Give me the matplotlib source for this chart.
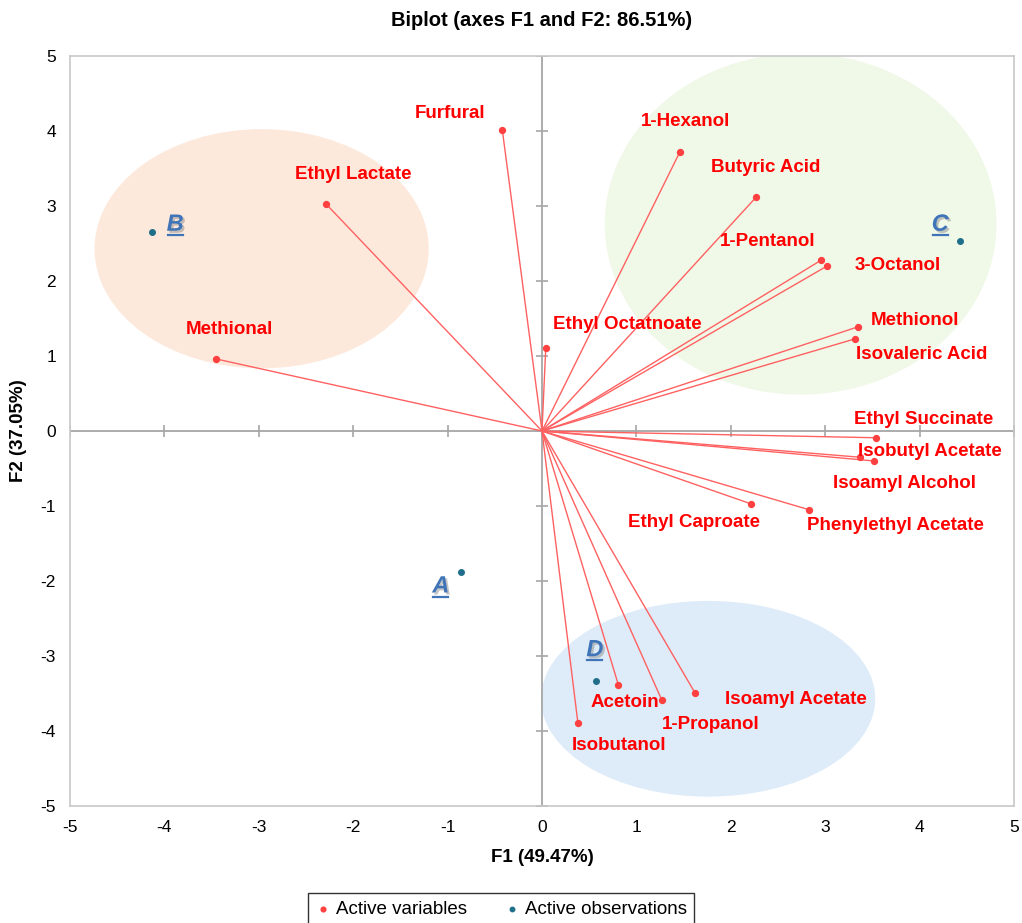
import matplotlib.pyplot as plt
from matplotlib.patches import Ellipse
from matplotlib.lines import Line2D
import matplotlib.patheffects as pe

plt.rcParams['font.family'] = ['Liberation Sans', 'DejaVu Sans']
plt.rcParams['axes.unicode_minus'] = False

# Active variables (F1, F2 loadings)
var_names = ['Furfural', 'Ethyl Lactate', 'Methional', 'Ethyl Octatnoate',
             '1-Hexanol', 'Butyric Acid', '1-Pentanol', '3-Octanol',
             'Methionol', 'Isovaleric Acid', 'Ethyl Succinate',
             'Isobutyl Acetate', 'Isoamyl Alcohol', 'Ethyl Caproate',
             'Phenylethyl Acetate', 'Isoamyl Acetate', '1-Propanol',
             'Acetoin', 'Isobutanol']
var_f1 = [-0.42, -2.29, -3.45, 0.04, 1.46, 2.27, 2.96, 3.02, 3.35, 3.32,
          3.54, 3.37, 3.52, 2.21, 2.83, 1.62, 1.27, 0.81, 0.38]
var_f2 = [4.01, 3.03, 0.96, 1.11, 3.72, 3.12, 2.28, 2.20, 1.39, 1.23,
          -0.09, -0.35, -0.40, -0.97, -1.05, -3.49, -3.59, -3.39, -3.89]

# Active observations
obs_names = ['A', 'B', 'C', 'D']
obs_f1 = [-0.86, -4.13, 4.43, 0.57]
obs_f2 = [-1.88, 2.65, 2.53, -3.33]

ticks = [-5, -4, -3, -2, -1, 0, 1, 2, 3, 4, 5]

# label offsets in pixels (x right, y up)
var_offsets = [(-52, 17), (27, 29), (13, 29), (82, 23), (6, 31), (9, 29),
               (-54, 19), (71, 1), (57, 6), (66, -16), (47, 18), (70, 6),
               (30, -23), (-57, -19), (86, -16), (101, -7), (49, -24),
               (6, -17), (41, -23)]
obs_offsets = [(-20, -14), (23, 8), (-20, 17), (-1, 31)]

fig = plt.figure(figsize=(10.22, 9.23), dpi=100)
ax = fig.add_axes([70 / 1022, 1 - 806 / 923, 944 / 1022, 750 / 923])

# group ellipses
ax.add_patch(Ellipse((-2.97, 2.43), 3.54, 3.19, facecolor='#fde9dc',
                     edgecolor='none', zorder=0))
ax.add_patch(Ellipse((2.74, 2.76), 4.15, 4.55, facecolor='#f0f8e8',
                     edgecolor='none', zorder=0))
ax.add_patch(Ellipse((1.76, -3.57), 3.54, 2.61, facecolor='#deebf8',
                     edgecolor='none', zorder=0))

# zero axes with cross ticks
ax.axhline(0, color='#a6a6a6', lw=1.3, zorder=1)
ax.axvline(0, color='#a6a6a6', lw=1.3, zorder=1)
ax.plot(ticks, [0] * len(ticks), ls='none', marker='|', ms=8, mew=1.2,
        color='#a6a6a6', zorder=1)
ax.plot([0] * len(ticks), ticks, ls='none', marker='_', ms=8, mew=1.2,
        color='#a6a6a6', zorder=1)

# variable vectors
for x, y in zip(var_f1, var_f2):
    ax.plot([0, x], [0, y], color='#ff6161', lw=1.0, zorder=2)
ax.scatter(var_f1, var_f2, s=18, color='#ff4040', zorder=3,
           label='Active variables')
for name, x, y, off in zip(var_names, var_f1, var_f2, var_offsets):
    ax.annotate(name, (x, y), xytext=off, textcoords='offset pixels',
                ha='center', va='center', color='#ff0000',
                fontsize=13.5, fontweight='bold', zorder=4)

# observations
ax.scatter(obs_f1, obs_f2, s=16, color='#1f6f8b', zorder=3,
           label='Active observations')
obs_texts = []
for name, x, y, off in zip(obs_names, obs_f1, obs_f2, obs_offsets):
    t = ax.annotate(name, (x, y), xytext=off, textcoords='offset pixels',
                    ha='center', va='center', color='#3f75b8',
                    fontsize=17, fontweight='bold', fontstyle='italic',
                    zorder=4,
                    path_effects=[pe.withSimplePatchShadow(offset=(1.5, -1.5),
                                                           shadow_rgbFace='#8c8c8c',
                                                           alpha=0.5)])
    obs_texts.append(t)

ax.set_xlim(-5, 5)
ax.set_ylim(-5, 5)
ax.set_xticks(ticks)
ax.set_yticks(ticks)
ax.tick_params(length=0, labelsize=12.5, pad=10, colors='#000000')
for s in ax.spines.values():
    s.set_color('#c8c8c8')
    s.set_linewidth(1.2)

fig.text(542 / 1022, 1 - 21 / 923, 'Biplot (axes F1 and F2: 86.51%)',
         ha='center', va='center', fontsize=14.5, fontweight='bold')
ax.set_xlabel('F1 (49.47%)', fontsize=13.5, fontweight='bold', labelpad=10)
ax.set_ylabel('F2 (37.05%)', fontsize=13.5, fontweight='bold', labelpad=10)

leg = fig.legend(loc='upper center', bbox_to_anchor=(501 / 1022, 1 - 893 / 923),
                 ncol=2, fancybox=False, edgecolor='#000000', fontsize=13.5,
                 markerscale=0.8, handletextpad=0.3, columnspacing=2.0,
                 handlelength=0.8, borderpad=0.4, borderaxespad=0)
leg.get_frame().set_linewidth(1.0)

# underline the observation letters
fig.canvas.draw()
renderer = fig.canvas.get_renderer()
for t in obs_texts:
    bb = t.get_window_extent(renderer)
    y0 = bb.y0 + 1
    fig.add_artist(Line2D([bb.x0 + 1, bb.x1 - 1], [y0, y0], transform=None,
                          color='#3f75b8', lw=1.6))

fig.savefig('out.png', dpi=100)
